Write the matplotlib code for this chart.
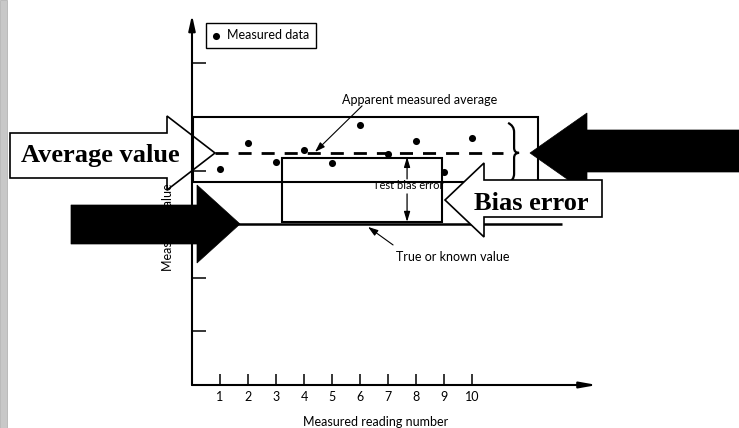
import matplotlib
matplotlib.use('Agg')
import matplotlib.pyplot as plt
from matplotlib.patches import Polygon, Rectangle, PathPatch
from matplotlib.path import Path

# ---------------- data ----------------
reading = [1, 2, 3, 4, 5, 6, 7, 8, 9, 10]
measured = [4.03, 4.51, 4.16, 4.38, 4.14, 4.85, 4.31, 4.55, 3.97, 4.61]
apparent_avg = 4.32
true_value = 3.0
yticks = [1, 2, 3, 4, 5, 6]
xtick_labels = [str(r) for r in reading]
xlabel = "Measured reading number"
ylabel = "Measured value"
legend_label = "Measured data"
avg_label = "Apparent measured average"
true_label = "True or known value"
bias_label = "Test bias error"
big_avg = "Average value"
big_bias = "Bias error"

W, H = 739, 428
plt.rcParams['font.family'] = ['Lato', 'DejaVu Sans']
fig = plt.figure(figsize=(W / 100, H / 100), dpi=100)

# ---------------- background overlay (pixel coords) ----------------
bg = fig.add_axes([0, 0, 1, 1], zorder=0)
bg.set_xlim(0, W); bg.set_ylim(H, 0); bg.axis('off')
bg.add_patch(Rectangle((0, 0), 7, H, facecolor='#c8c8c8', edgecolor='#b4b4b4', lw=0.6))
bg.add_patch(Polygon([(10, 133), (167, 133), (167, 116), (215, 153), (167, 190),
                      (167, 178), (10, 178)], closed=True, facecolor='white',
                     edgecolor='black', lw=1.2, joinstyle='miter'))
bg.text(100, 162, big_avg, ha='center', va='baseline', fontsize=19,
        fontweight='bold', family='Liberation Serif')

# ---------------- main diagram ----------------
ax = fig.add_axes([192 / W, (H - 385) / H, 405 / W, 370 / H], zorder=1)
ax.patch.set_alpha(0)
XMAX, YMAX = 14.46, 6.90
ax.set_xlim(0, XMAX); ax.set_ylim(0, YMAX)
for s in ax.spines.values():
    s.set_visible(False)

def px(x, y):
    return ((x - 192) / 28.0, (385 - y) / 53.6)

ax_arrow = dict(color='black', lw=1.5, shrinkA=0, shrinkB=0)
ax.annotate('', xy=(0, YMAX), xytext=(0, 0), annotation_clip=False,
            arrowprops=dict(arrowstyle='-|>,head_length=0.9,head_width=0.2', **ax_arrow))
ax.annotate('', xy=(XMAX, 0), xytext=(0, 0), annotation_clip=False,
            arrowprops=dict(arrowstyle='-|>,head_length=1.0,head_width=0.18', **ax_arrow))

ax.set_xticks(reading)
ax.set_xticklabels(xtick_labels, fontsize=9)
ax.set_yticks(yticks)
ax.set_yticklabels([])
ax.tick_params(axis='x', direction='in', length=8, width=1.1, pad=4)
ax.tick_params(axis='y', direction='in', length=10, width=1.1)

# boxes
x0, y0 = px(193, 182); x1, y1 = px(538, 117)
ax.add_patch(Rectangle((x0, y0), x1 - x0, y1 - y0, fill=False, lw=1.5, ec='black'))
x0, y0 = px(282, 222); x1, y1 = px(442, 158)
ax.add_patch(Rectangle((x0, y0), x1 - x0, y1 - y0, fill=False, lw=1.5, ec='black'))

# true value line
ax.plot([0, px(562, 0)[0]], [true_value, true_value], color='black', lw=1.8,
        solid_capstyle='butt')
# apparent average dashed line
ax.plot([px(215, 0)[0], px(503, 0)[0]], [apparent_avg, apparent_avg], color='black',
        lw=2.0, linestyle=(0, (4.7, 3.6)))

# data
ax.scatter(reading, measured, s=26, color='black', zorder=5, label=legend_label,
           clip_on=False, linewidths=0)

# brace
bx = [px(508, 123), px(514, 126), px(514, 132), px(514, 148), px(514, 153),
      px(519, 153), px(514, 153), px(514, 158), px(514, 174), px(514, 180),
      px(508, 183)]
codes = [Path.MOVETO, Path.CURVE3, Path.CURVE3, Path.LINETO, Path.CURVE3, Path.CURVE3,
         Path.CURVE3, Path.CURVE3, Path.LINETO, Path.CURVE3, Path.CURVE3]
ax.add_patch(PathPatch(Path(bx, codes), fill=False, lw=1.6, ec='black'))

# labels and leaders
tx, ty = px(420, 100)
ax.text(tx, ty, avg_label, ha='center', va='center', fontsize=9)
ax.annotate('', xy=px(315, 152), xytext=px(362, 106), annotation_clip=False,
            arrowprops=dict(arrowstyle='-|>,head_length=0.6,head_width=0.2',
                            color='black', lw=0.8, shrinkA=0, shrinkB=0))
tx, ty = px(453, 257)
ax.text(tx, ty, true_label, ha='center', va='center', fontsize=9)
ax.annotate('', xy=px(368, 227), xytext=px(393, 245), annotation_clip=False,
            arrowprops=dict(arrowstyle='-|>,head_length=0.6,head_width=0.2',
                            color='black', lw=0.8, shrinkA=0, shrinkB=0))
tx, ty = px(408, 186)
ax.text(tx, ty, bias_label, ha='center', va='center', fontsize=8)
ax.annotate('', xy=px(407, 157), xytext=px(407, 179), annotation_clip=False,
            arrowprops=dict(arrowstyle='-|>,head_length=0.6,head_width=0.18',
                            color='black', lw=0.9, shrinkA=0, shrinkB=0))
ax.annotate('', xy=px(407, 222), xytext=px(407, 194), annotation_clip=False,
            arrowprops=dict(arrowstyle='-|>,head_length=0.6,head_width=0.18',
                            color='black', lw=0.9, shrinkA=0, shrinkB=0))

leg = ax.legend(loc='upper left', bbox_to_anchor=(206 / W, 1 - 23 / H),
                bbox_transform=fig.transFigure, frameon=True, fancybox=False,
                edgecolor='black', fontsize=9, handlelength=0.6, handletextpad=0.6,
                borderpad=0.5, borderaxespad=0, scatterpoints=1, framealpha=1)
leg.get_frame().set_linewidth(1.0)

fig.text(168 / W, 1 - 227 / H, ylabel, rotation=90, ha='center', va='center', fontsize=9)
fig.text(376 / W, 1 - 422 / H, xlabel, ha='center', va='center', fontsize=9)

# ---------------- foreground overlay ----------------
fg = fig.add_axes([0, 0, 1, 1], zorder=2)
fg.set_xlim(0, W); fg.set_ylim(H, 0); fg.axis('off')
fg.add_patch(Polygon([(745, 130), (587, 130), (587, 113), (530, 153), (587, 193),
                      (587, 172), (745, 172)], closed=True, facecolor='black',
                     edgecolor='black', lw=0.5))
fg.add_patch(Polygon([(602, 180), (484, 180), (484, 163), (445, 200), (484, 237),
                      (484, 217), (602, 217)], closed=True, facecolor='white',
                     edgecolor='black', lw=1.2, joinstyle='miter'))
fg.text(531, 210, big_bias, ha='center', va='baseline', fontsize=19,
        fontweight='bold', family='Liberation Serif')
fg.add_patch(Polygon([(71, 205), (197, 205), (197, 185), (240, 224), (197, 263),
                      (197, 244), (71, 244)], closed=True, facecolor='black',
                     edgecolor='black', lw=0.5))

fig.savefig('out.png', dpi=100)
